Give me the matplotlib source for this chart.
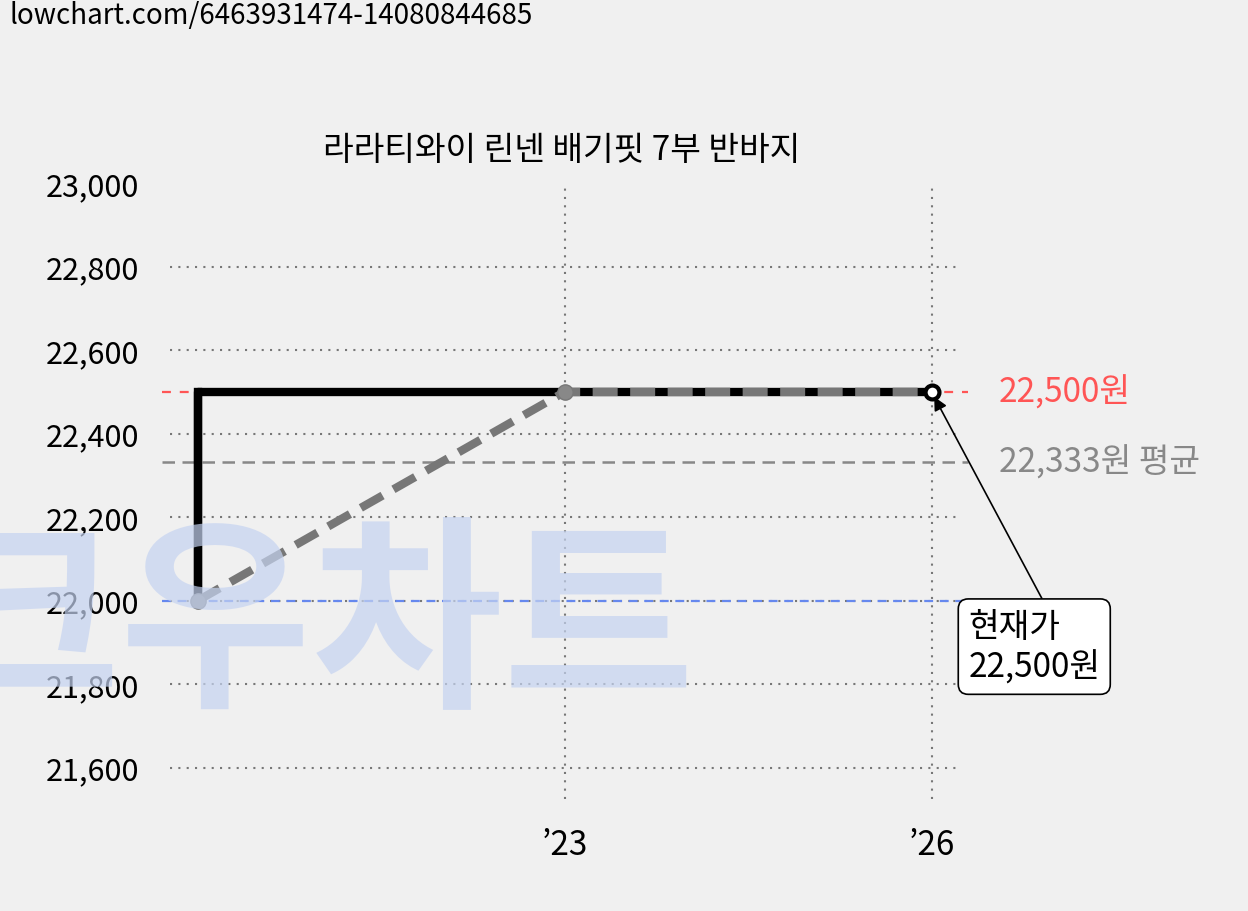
import matplotlib
matplotlib.use("Agg")
import matplotlib.pyplot as plt

plt.rcParams['font.family'] = ['Noto Sans CJK KR', 'DejaVu Sans']

years = [2020, 2023, 2026]
prices = [22000, 22500, 22500]
avg = 22333
cur = 22500
low = 22000
yticks = [21600, 21800, 22000, 22200, 22400, 22600, 22800, 23000]
xticks = [2023, 2026]
xlabels = ["’23", "’26"]
title = "라라티와이 린넨 배기핏 7부 반바지"

bg = "#f0f0f0"
fig = plt.figure(figsize=(12.48, 9.12), dpi=100, facecolor=bg)
ax = fig.add_axes([0.136, 0.123, 0.633, 0.675], facecolor=bg)
ax.set_xlim(2019.77, 2026.23)
ax.set_ylim(21525, 23000)
for s in ax.spines.values():
    s.set_visible(False)

fig.text(0.25, 0.31, "크우차트", fontsize=150, fontweight='bold', color='#c5d3f0',
         alpha=0.7, ha='center', va='center', zorder=0)

for y in yticks[:-1]:
    ax.axhline(y, color='#777777', ls=(0, (1, 3)), lw=1.5, zorder=1)
for x in xticks:
    ax.axvline(x, color='#777777', ls=(0, (1, 3)), lw=1.5, zorder=1)

ax.axhline(cur, xmin=-0.01, xmax=1.01, color='#ff5555', ls=(0, (4, 4)), lw=1.6, clip_on=False, zorder=2)
ax.axhline(avg, xmin=-0.01, xmax=1.01, color='#888888', ls=(0, (5, 3)), lw=1.8, clip_on=False, zorder=2)
ax.axhline(low, xmin=-0.01, xmax=1.01, color='#6688ee', ls=(0, (4, 3)), lw=1.6, clip_on=False, zorder=2)

ax.step(years, prices, where='pre', color='black', lw=6, zorder=3, solid_capstyle='butt')
ax.plot([years[0], years[0]], [prices[0], prices[1]], color='black', lw=6, zorder=3)
ax.plot(years, prices, color='#777777', lw=6, ls=(0, (3, 1.5)), zorder=4,
        marker='o', markersize=11, markerfacecolor='#888888', markeredgecolor='#777777')
ax.plot([years[-1]], [cur], 'o', markersize=10, markerfacecolor='white',
        markeredgecolor='black', markeredgewidth=3, zorder=5)

ax.text(2026.55, cur, "22,500원", color='#ff5555', fontsize=24, va='center', ha='left', clip_on=False)
ax.text(2026.55, avg, "22,333원 평균", color='#888888', fontsize=24, va='center', ha='left', clip_on=False)

ax.annotate("현재가\n22,500원", xy=(years[-1], cur), xytext=(2026.3, 21980),
            fontsize=24, ha='left', va='top', annotation_clip=False,
            bbox=dict(boxstyle='round,pad=0.3', fc='white', ec='black', lw=1.2),
            arrowprops=dict(arrowstyle='-|>', color='black', lw=1.2, mutation_scale=20,
                            shrinkA=0, shrinkB=4, relpos=(0.6, 1)))

ax.set_yticks(yticks)
ax.set_yticklabels([f"{v:,}" for v in yticks], fontsize=22)
ax.set_xticks(xticks)
ax.set_xticklabels(xlabels, fontsize=24)
ax.tick_params(length=0, pad=20)
ax.tick_params(axis='y', pad=22)

fig.text(0.45, 0.835, title, fontsize=24, ha='center', va='center')
fig.text(0.008, 0.982, "lowchart.com/6463931474-14080844685", fontsize=20, ha='left', va='center')

fig.savefig("out.png", dpi=100, facecolor=bg)
